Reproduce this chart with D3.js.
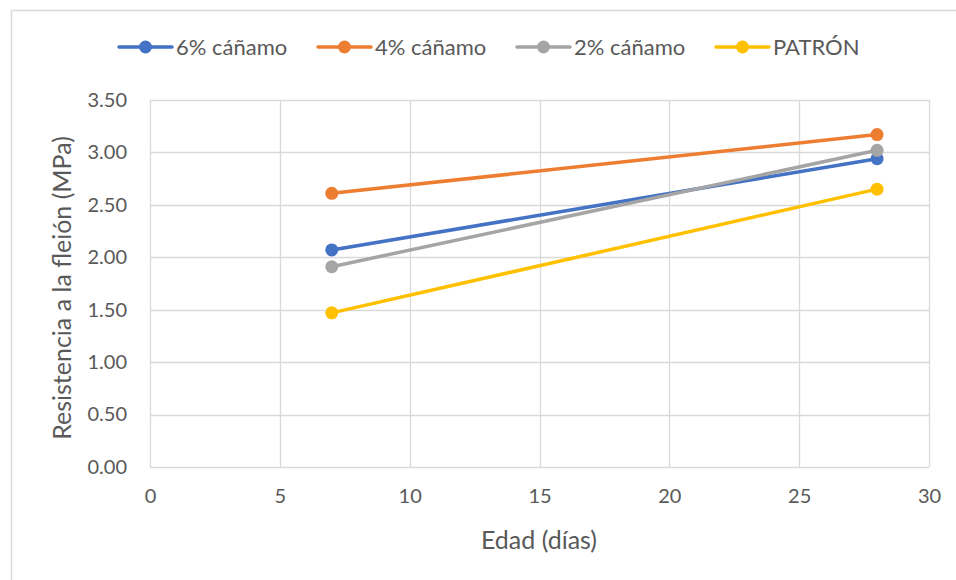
<!DOCTYPE html>
<html>
<head>
<meta charset="utf-8">
<script src="https://cdn.jsdelivr.net/npm/d3@7"></script>
<style>
  body { margin: 0; background: #fff; }
  svg text { font-family: Lato, "Open Sans", sans-serif; fill: #595959; }
</style>
</head>
<body>
<svg id="chart" width="956" height="580"></svg>
<script>
// Flexural strength by curing age
const ages = [7, 28];
const seriesNames = ["6% cáñamo", "4% cáñamo", "2% cáñamo", "PATRÓN"];
const seriesColors = ["#4472C4", "#ED7D31", "#A5A5A5", "#FFC000"];
const values6 = [2.07, 2.94];
const values4 = [2.61, 3.17];
const values2 = [1.91, 3.02];
const valuesPatron = [1.47, 2.65];
const xTicks = [0, 5, 10, 15, 20, 25, 30];
const yTicks = [0, 0.5, 1, 1.5, 2, 2.5, 3, 3.5];

const allValues = [values6, values4, values2, valuesPatron];
const series = seriesNames.map((name, i) => ({
  name,
  color: seriesColors[i],
  points: ages.map((a, j) => ({ x: a, y: allValues[i][j] }))
}));

const svg = d3.select("#chart");
const plot = { left: 150, right: 929, top: 100, bottom: 467 };
const font = "Lato, 'Open Sans', sans-serif";

// outer chart frame
svg.append("rect")
  .attr("x", 11.5).attr("y", 10.5)
  .attr("width", 960).attr("height", 600)
  .attr("fill", "#fff").attr("stroke", "#d9d9d9").attr("stroke-width", 1.5);

const x = d3.scaleLinear().domain([0, 30]).range([plot.left, plot.right]);
const y = d3.scaleLinear().domain([0, 3.5]).range([plot.bottom, plot.top]);

// gridlines
const grid = svg.append("g");
grid.selectAll("line.h").data(yTicks).join("line")
  .attr("x1", plot.left).attr("x2", plot.right)
  .attr("y1", d => Math.round(y(d)) + 0.5).attr("y2", d => Math.round(y(d)) + 0.5)
  .attr("stroke", "#d9d9d9").attr("stroke-width", 1.3);
grid.selectAll("line.v").data(xTicks).join("line")
  .attr("y1", plot.top).attr("y2", plot.bottom)
  .attr("x1", d => Math.round(x(d)) + 0.5).attr("x2", d => Math.round(x(d)) + 0.5)
  .attr("stroke", "#d9d9d9").attr("stroke-width", 1.3);

// axes (labels only; lines come from the grid)
const yAxis = svg.append("g")
  .attr("transform", `translate(${plot.left},0)`)
  .call(d3.axisLeft(y).tickValues(yTicks).tickFormat(d3.format(".2f")).tickSize(0).tickPadding(23));
const xAxis = svg.append("g")
  .attr("transform", `translate(0,${plot.bottom})`)
  .call(d3.axisBottom(x).tickValues(xTicks).tickFormat(d3.format("d")).tickSize(0).tickPadding(22));
[yAxis, xAxis].forEach(g => {
  g.select(".domain").remove();
  g.selectAll("text").attr("font-size", 20).attr("fill", "#595959")
    .attr("font-family", font);
});

// axis titles
svg.append("text")
  .attr("x", 539).attr("y", 549)
  .attr("text-anchor", "middle").attr("font-size", 25)
  .text("Edad (días)");
svg.append("text")
  .attr("transform", "translate(71,288) rotate(-90)")
  .attr("text-anchor", "middle").attr("font-size", 25)
  .text("Resistencia a la fleión (MPa)");

// series lines and markers
const line = d3.line().x(d => x(d.x)).y(d => y(d.y));
const sg = svg.append("g").selectAll("g").data(series).join("g");
sg.append("path")
  .attr("d", d => line(d.points))
  .attr("fill", "none").attr("stroke", d => d.color)
  .attr("stroke-width", 3.5).attr("stroke-linecap", "round");
sg.selectAll("circle").data(d => d.points.map(p => ({ ...p, color: d.color }))).join("circle")
  .attr("cx", d => x(d.x)).attr("cy", d => y(d.y)).attr("r", 6.5)
  .attr("fill", d => d.color);

// legend
const legendX = [119, 318, 517, 716];
const lg = svg.append("g").selectAll("g").data(series).join("g")
  .attr("transform", (d, i) => `translate(${legendX[i]},47)`);
lg.append("line").attr("x1", 0).attr("x2", 53)
  .attr("stroke", d => d.color).attr("stroke-width", 3.5).attr("stroke-linecap", "round");
lg.append("circle").attr("cx", 26.5).attr("cy", 0).attr("r", 6.5).attr("fill", d => d.color);
lg.append("text").attr("x", 57).attr("y", 0).attr("dy", "0.35em")
  .attr("font-size", 22).text(d => d.name);
</script>
</body>
</html>
